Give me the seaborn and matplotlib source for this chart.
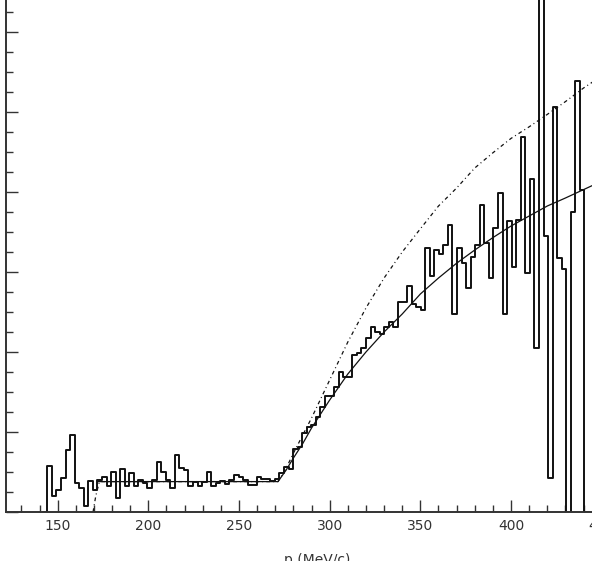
import numpy as np
import pandas as pd
import matplotlib
matplotlib.use("Agg")
import matplotlib.pyplot as plt
from matplotlib.ticker import MultipleLocator
import seaborn as sns

# ---------------- data ----------------
# histogram: bins from 144.3 to 440.5 MeV/c (118 bins)
bin_lo = 144.3
bin_hi = 440.5
counts = [
    11.6, 4.0, 5.5, 8.4, 15.6, 19.3, 7.3, 6.0, 1.4, 7.8,
    5.5, 8.0, 8.7, 6.5, 10.1, 3.4, 10.7, 6.5, 9.7, 6.5,
    8.0, 7.3, 5.9, 8.0, 12.6, 10.1, 8.0, 6.0, 14.2, 10.9,
    10.6, 6.6, 7.4, 6.5, 7.6, 10.1, 6.6, 7.2, 7.7, 7.0,
    8.0, 9.3, 8.8, 8.0, 6.8, 6.8, 8.8, 8.3, 8.3, 7.7,
    8.3, 9.7, 11.3, 10.8, 15.7, 16.3, 19.8, 21.3, 21.75, 23.8,
    26.3, 29.0, 29.0, 31.3, 35.1, 33.8, 33.8, 39.25, 39.7, 40.9,
    43.4, 46.2, 45.1, 44.5, 46.3, 47.6, 46.3, 52.4, 52.4, 56.5,
    52.0, 51.3, 50.5, 65.9, 59.0, 65.5, 64.5, 66.75, 71.75, 49.4,
    65.9, 62.3, 55.9, 63.8, 66.75, 76.75, 67.2, 58.4, 71.1, 79.8,
    49.4, 72.75, 61.2, 73.0, 93.75, 59.8, 83.25, 40.9, 140.0, 69.0,
    8.4, 101.25, 63.4, 60.7, 0.0, 75.1, 107.75, 80.5,
]

# fitted curve (solid)
fit_p = [172.0, 200, 230, 250, 271.5, 276, 280, 285, 290, 300, 310, 320, 330,
         340, 350, 360, 370, 380, 390, 400, 410, 420, 430, 440, 450, 460]
fit_y = [7.6, 7.6, 7.6, 7.6, 7.6, 10.5, 13.5, 17.0, 21.0, 28.0, 34.5, 40.0, 45.0,
         49.5, 54.5, 58.5, 62.2, 65.5, 68.6, 71.5, 74.0, 76.5, 78.5, 80.6, 82.7, 84.6]

# second curve (dash-dot)
alt_p = [169.5, 171.0, 173.0, 200, 230, 250, 271.5, 275.5, 280, 290, 300, 310,
         320, 330, 340, 350, 360, 370, 380, 390, 400, 410, 420, 430, 440, 450, 460]
alt_y = [0.0, 4.0, 7.6, 7.6, 7.6, 7.6, 7.6, 10.5, 14.7, 23.5, 33.0, 42.5,
         51.0, 58.5, 65.0, 70.8, 76.5, 81.0, 86.0, 89.8, 93.4, 96.3, 99.4,
         102.6, 106.0, 109.0, 111.8]

x_label = "p (MeV/c)"

# ---------------- plot ----------------
sns.set_style("ticks")
plt.rcParams["font.family"] = ["DejaVu Sans"]

fig = plt.figure(figsize=(5.92, 5.61), dpi=100)
ax = fig.add_axes([6 / 592, 49 / 561, 622 / 592, 560 / 561])

n = len(counts)
edges = np.linspace(bin_lo, bin_hi, n + 1)
w = edges[1] - edges[0]
# pad with empty bins so the outline drops to the axis at both ends
edges_p = np.concatenate([[edges[0] - w], edges, [edges[-1] + w]])
centers = 0.5 * (edges_p[:-1] + edges_p[1:])
weights = np.concatenate([[0.0], counts, [0.0]])
hist_df = pd.DataFrame({"p": centers, "w": weights})

sns.histplot(data=hist_df, x="p", weights="w", bins=[float(e) for e in edges_p],
             element="step", fill=False, color="#111111", linewidth=1.4, ax=ax)

sns.lineplot(x=fit_p, y=fit_y, ax=ax, color="#111111", linewidth=0.9,
             sort=False, estimator=None)
sns.lineplot(x=alt_p, y=alt_y, ax=ax, color="#111111", linewidth=0.9,
             sort=False, estimator=None, linestyle=(0, (3, 2.5, 0.8, 2.5)))

ax.set_xlim(121.5, 464.5)
ax.set_ylim(0, 140)
ax.xaxis.set_major_locator(MultipleLocator(50))
ax.xaxis.set_minor_locator(MultipleLocator(10))
ax.yaxis.set_major_locator(MultipleLocator(20))
ax.yaxis.set_minor_locator(MultipleLocator(5))
ax.tick_params(which="both", direction="in", top=False, right=False,
               color="#333333", width=1.0, labelcolor="#333333",
               labelsize=10, labelleft=False, pad=5)
ax.tick_params(which="major", length=8.4)
ax.tick_params(which="minor", length=4.8)
for s in ax.spines.values():
    s.set_color("#333333")
    s.set_linewidth(1.4)

ax.set_ylabel("")
ax.set_xlabel(x_label, fontsize=10, color="#333333")
ax.xaxis.set_label_coords((317 - 6) / 622, -41 / 560)
ax.xaxis.label.set_va("top")

fig.savefig("out.png", dpi=100)
